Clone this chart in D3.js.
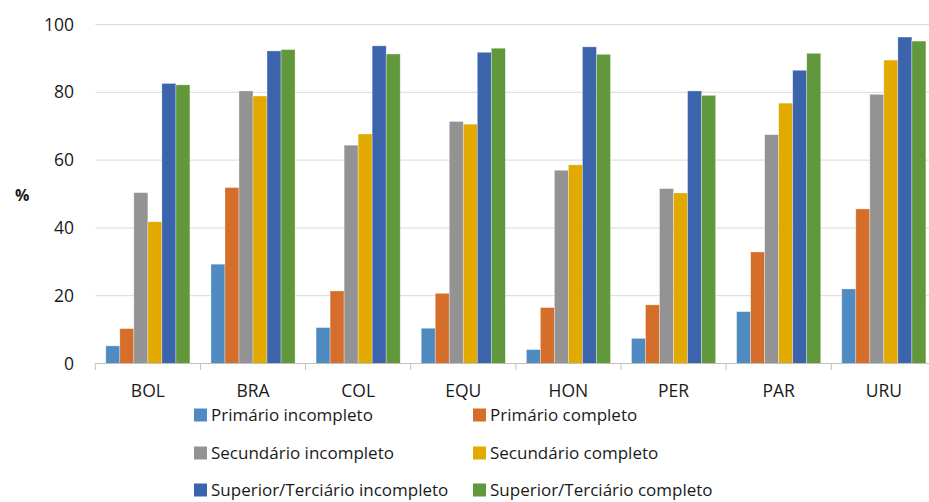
<!DOCTYPE html>
<html><head><meta charset="utf-8">
<script src="https://cdn.jsdelivr.net/npm/d3@7"></script>
<style>body{margin:0;background:#fff}svg{display:block}text{font-family:"Open Sans",sans-serif;fill:#1a1a1a}</style>
</head><body><svg id="c" width="929" height="502"></svg>
<script>
const categories = ["BOL","BRA","COL","EQU","HON","PER","PAR","URU"];
const seriesNames = ["Primário incompleto","Primário completo","Secundário incompleto","Secundário completo","Superior/Terciário incompleto","Superior/Terciário completo"];
const primInc = [5.2,29.3,10.6,10.4,4.1,7.4,15.3,22.0];
const primComp = [10.3,51.9,21.4,20.7,16.5,17.3,32.9,45.6];
const secInc = [50.4,80.4,64.4,71.4,57.0,51.6,67.5,79.4];
const secComp = [41.8,78.9,67.7,70.6,58.6,50.3,76.8,89.5];
const supInc = [82.6,92.2,93.7,91.8,93.4,80.4,86.5,96.3];
const supComp = [82.2,92.6,91.3,93.0,91.2,79.1,91.5,95.1];
const yTicks = [0,20,40,60,80,100];
const colors = ["#4F8BC0","#D46E2A","#939393","#E2A900","#3B64AD","#62983C"];
const series = [primInc,primComp,secInc,secComp,supInc,supComp];

const svg = d3.select("#c");
const x = d3.scaleBand().domain(categories).range([95.3,936.4]).paddingInner(0.2).paddingOuter(0.1);
const y = d3.scaleLinear().domain([0,100]).range([363.5,24.5]);
const x1 = d3.scaleBand().domain(d3.range(6)).range([0,x.bandwidth()]);
const fs = "17px";

// grid
svg.append("g").selectAll("line").data(yTicks.slice(1)).join("line")
  .attr("x1",95.3).attr("x2",929).attr("y1",d=>y(d)).attr("y2",d=>y(d))
  .attr("stroke","#d9d9d9").attr("stroke-width",1);

// y labels
svg.append("g").selectAll("text").data(yTicks).join("text")
  .attr("x",74).attr("y",d=>y(d)).attr("dy","0.35em").attr("text-anchor","end")
  .style("font-size","17.5px").text(d=>d);
svg.append("text").attr("x",15).attr("y",195).attr("dy","0.35em").style("font-weight","bold").style("font-size","16px").text("%");

// bars
const g = svg.append("g").selectAll("g").data(categories).join("g")
  .attr("transform",d=>`translate(${x(d)},0)`);
g.selectAll("rect").data((d,i)=>series.map((s,k)=>({k,v:s[i]}))).join("rect")
  .attr("x",d=>x1(d.k)).attr("width",x1.bandwidth())
  .attr("y",d=>y(d.v)).attr("height",d=>y(0)-y(d.v))
  .attr("fill",d=>colors[d.k]).attr("stroke","#fff").attr("stroke-opacity",0.45).attr("stroke-width",0.7);

// x axis
const xa = svg.append("g");
xa.append("line").attr("x1",95.3).attr("x2",929).attr("y1",363.5).attr("y2",363.5).attr("stroke","#bfbfbf");
xa.selectAll("line.t").data(d3.range(8)).join("line").attr("class","t")
  .attr("x1",i=>95.3+i*x.step()).attr("x2",i=>95.3+i*x.step()).attr("y1",363.5).attr("y2",370).attr("stroke","#bfbfbf");
xa.selectAll("text").data(categories).join("text")
  .attr("x",d=>x(d)+x.bandwidth()/2).attr("y",397).attr("text-anchor","middle")
  .style("font-size","17.5px").text(d=>d);

// legend
const lx = [194,473], ly = [415,453,490];
const lg = svg.append("g").selectAll("g").data(seriesNames).join("g")
  .attr("transform",(d,i)=>`translate(${lx[i%2]},${ly[Math.floor(i/2)]})`);
lg.append("rect").attr("x",0).attr("y",-6.5).attr("width",13).attr("height",13).attr("fill",(d,i)=>colors[i]);
lg.append("text").attr("x",17).attr("y",0).attr("dy","0.36em").style("font-size",fs).text(d=>d);
</script></body></html>
